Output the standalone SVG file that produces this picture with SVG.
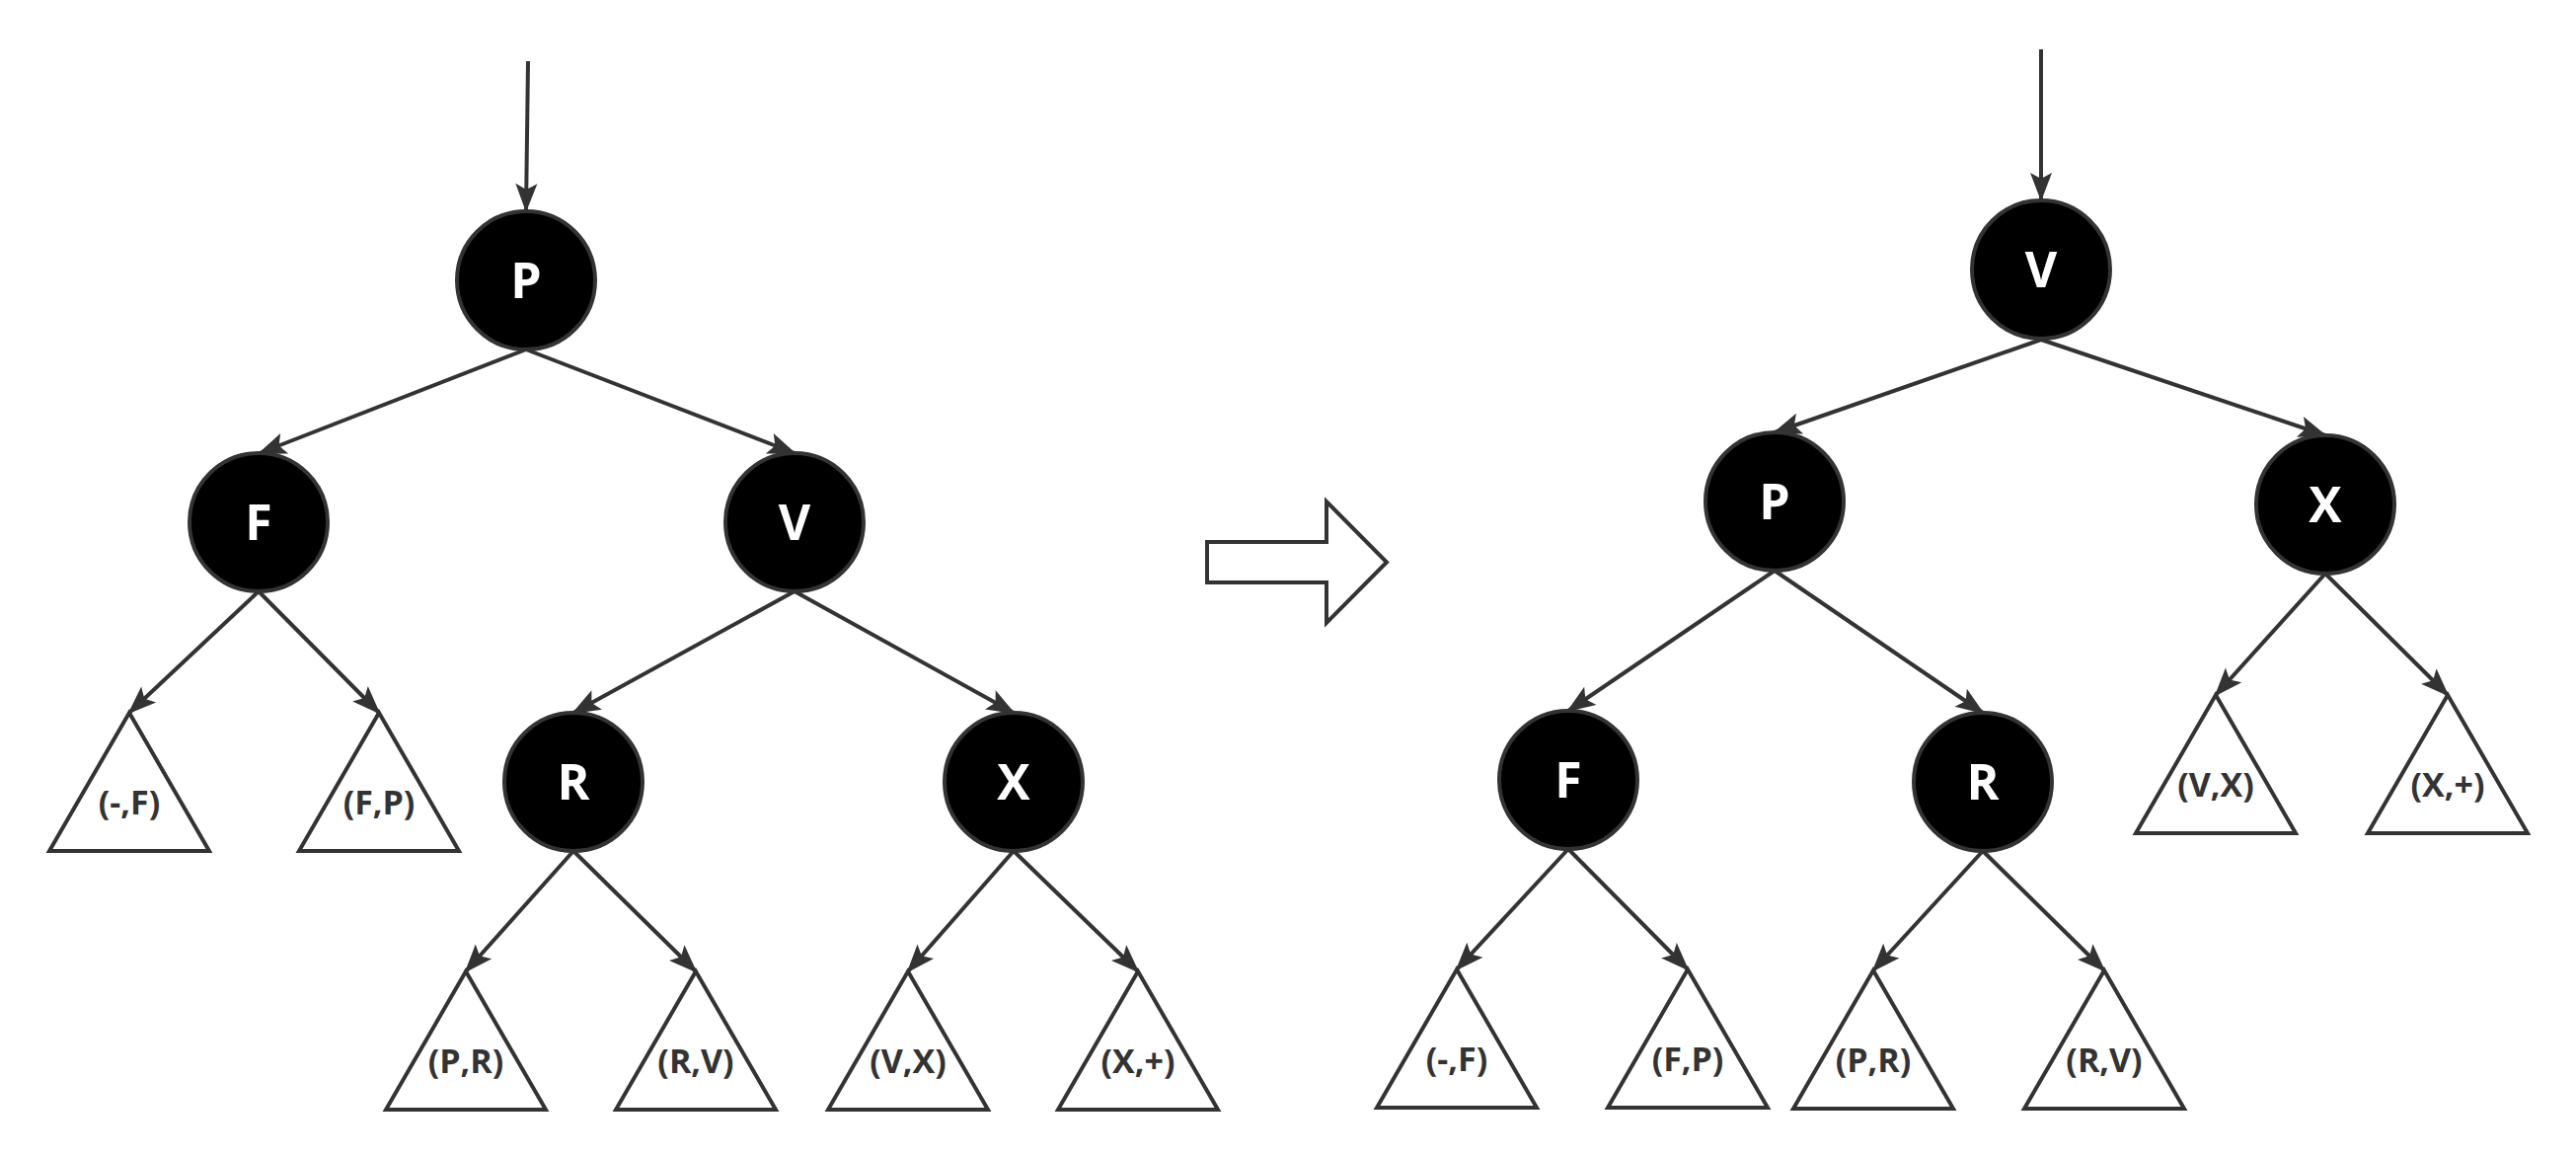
<svg xmlns="http://www.w3.org/2000/svg" width="2610" height="1173" viewBox="0 0 2610 1173">
<defs>
<marker id="ah" markerUnits="userSpaceOnUse" markerWidth="28" markerHeight="22" refX="27" refY="11" orient="auto" overflow="visible">
<path d="M0,0 L29,11 L0,22 L6,11 Z" fill="#333"/>
</marker>
<style>
.node circle{fill:#000;stroke:#333;stroke-width:4}
.node text{fill:#fff;font-family:"Open Sans","Liberation Sans",sans-serif;font-weight:bold;font-size:50px;text-anchor:middle}
.tri polygon{fill:#fff;stroke:#333;stroke-width:4;stroke-linejoin:miter}
.tri text{fill:#333;font-family:"Open Sans","Liberation Sans",sans-serif;font-weight:bold;font-size:34px;text-anchor:middle}
#connectors line{stroke:#333;stroke-width:4;marker-end:url(#ah)}
.bigarrow{fill:#fff;stroke:#333;stroke-width:4}
</style>
</defs>
<rect width="2610" height="1173" fill="#fff"/>

<g id="connectors">
<line x1="535" y1="62" x2="533" y2="213"/>
<line x1="533" y1="354" x2="263" y2="459"/>
<line x1="533" y1="354" x2="805" y2="459"/>
<line x1="262" y1="599" x2="131" y2="722"/>
<line x1="262" y1="599" x2="384" y2="722"/>
<line x1="805" y1="599" x2="581" y2="722"/>
<line x1="805" y1="599" x2="1027" y2="722"/>
<line x1="581" y1="862" x2="472" y2="984"/>
<line x1="581" y1="862" x2="705" y2="984"/>
<line x1="1027" y1="862" x2="920" y2="984"/>
<line x1="1027" y1="862" x2="1153" y2="984"/>

<line x1="2068" y1="50" x2="2068" y2="202"/>
<line x1="2068" y1="344" x2="1798" y2="438"/>
<line x1="2068" y1="344" x2="2356" y2="441"/>
<line x1="1798" y1="578" x2="1589" y2="720"/>
<line x1="1798" y1="578" x2="2009" y2="722"/>
<line x1="1589" y1="860" x2="1476" y2="982"/>
<line x1="1589" y1="860" x2="1710" y2="982"/>
<line x1="2009" y1="862" x2="1898" y2="983"/>
<line x1="2009" y1="862" x2="2132" y2="983"/>
<line x1="2356" y1="581" x2="2245" y2="704"/>
<line x1="2356" y1="581" x2="2480" y2="704"/>
</g>

<!-- left tree -->
<g id="L-P" class="node"><circle cx="533" cy="284" r="70"/><text x="533" y="302">P</text></g>
<g id="L-F" class="node"><circle cx="262" cy="529" r="70"/><text x="262" y="547">F</text></g>
<g id="L-V" class="node"><circle cx="805" cy="529" r="70"/><text x="805" y="547">V</text></g>
<g id="L-R" class="node"><circle cx="581" cy="792" r="70"/><text x="581" y="810">R</text></g>
<g id="L-X" class="node"><circle cx="1027" cy="792" r="70"/><text x="1027" y="810">X</text></g>

<g id="L-t1" class="tri"><polygon points="131,722 212,862 50,862"/><text x="131" y="825">(-,F)</text></g>
<g id="L-t2" class="tri"><polygon points="384,722 465,862 303,862"/><text x="384" y="825">(F,P)</text></g>
<g id="L-t3" class="tri"><polygon points="472,984 553,1124 391,1124"/><text x="472" y="1087">(P,R)</text></g>
<g id="L-t4" class="tri"><polygon points="705,984 786,1124 624,1124"/><text x="705" y="1087">(R,V)</text></g>
<g id="L-t5" class="tri"><polygon points="920,984 1001,1124 839,1124"/><text x="920" y="1087">(V,X)</text></g>
<g id="L-t6" class="tri"><polygon points="1153,984 1234,1124 1072,1124"/><text x="1153" y="1087">(X,+)</text></g>

<!-- transform arrow -->
<g id="transform-arrow"><polygon class="bigarrow" points="1223,549 1344,549 1344,508 1405,569.5 1344,631 1344,590 1223,590"/></g>

<!-- right tree -->
<g id="R-V" class="node"><circle cx="2068" cy="273" r="70"/><text x="2068" y="291">V</text></g>
<g id="R-P" class="node"><circle cx="1798" cy="508" r="70"/><text x="1798" y="526">P</text></g>
<g id="R-X" class="node"><circle cx="2356" cy="511" r="70"/><text x="2356" y="529">X</text></g>
<g id="R-F" class="node"><circle cx="1589" cy="790" r="70"/><text x="1589" y="808">F</text></g>
<g id="R-R" class="node"><circle cx="2009" cy="792" r="70"/><text x="2009" y="810">R</text></g>

<g id="R-t1" class="tri"><polygon points="2245,704 2326,844 2164,844"/><text x="2245" y="807">(V,X)</text></g>
<g id="R-t2" class="tri"><polygon points="2480,704 2561,844 2399,844"/><text x="2480" y="807">(X,+)</text></g>
<g id="R-t3" class="tri"><polygon points="1476,982 1557,1122 1395,1122"/><text x="1476" y="1085">(-,F)</text></g>
<g id="R-t4" class="tri"><polygon points="1710,982 1791,1122 1629,1122"/><text x="1710" y="1085">(F,P)</text></g>
<g id="R-t5" class="tri"><polygon points="1898,983 1979,1123 1817,1123"/><text x="1898" y="1086">(P,R)</text></g>
<g id="R-t6" class="tri"><polygon points="2132,983 2213,1123 2051,1123"/><text x="2132" y="1086">(R,V)</text></g>
</svg>
